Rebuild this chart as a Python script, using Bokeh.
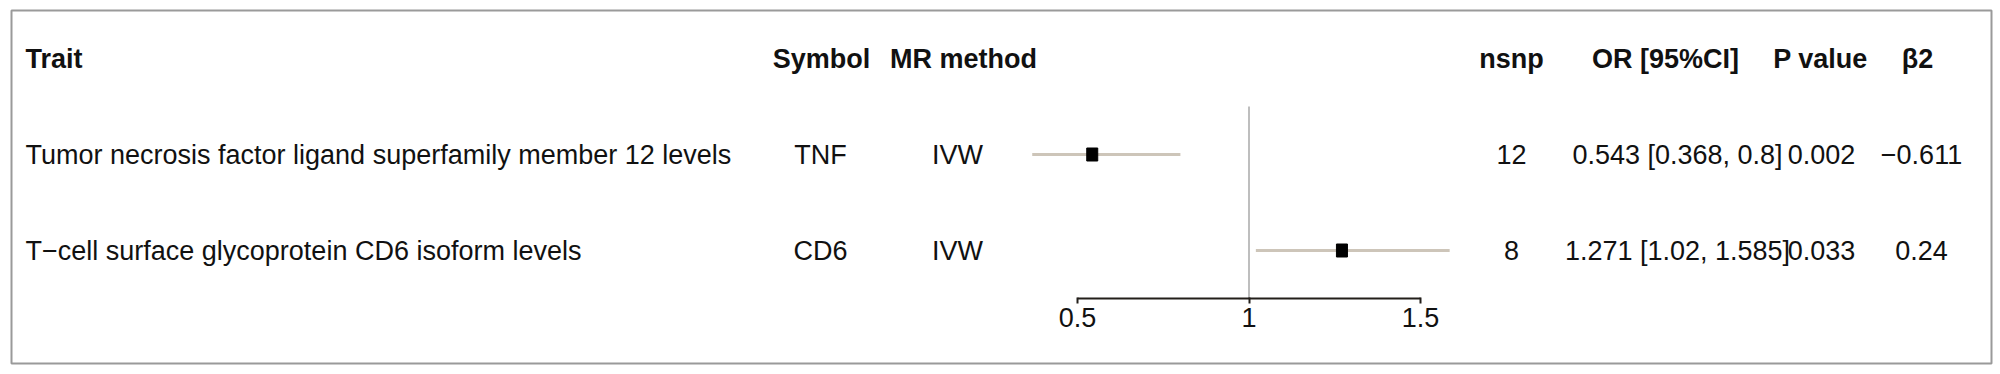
from bokeh.plotting import figure
from bokeh.models import Range1d, LinearAxis, FixedTicker
from bokeh.core.properties import value
from bokeh.embed import file_html
from bokeh.resources import INLINE

# ---------------- data ----------------
headers = ["Trait", "Symbol", "MR method", "nsnp", "OR [95%CI]", "P value", "β2"]
traits = ["Tumor necrosis factor ligand superfamily member 12 levels",
          "T\u2212cell surface glycoprotein CD6 isoform levels"]
symbols = ["TNF", "CD6"]
methods = ["IVW", "IVW"]
nsnp = [12, 8]
or_est = [0.543, 1.271]
or_lo = [0.368, 1.02]
or_hi = [0.8, 1.585]
pvals = ["0.002", "0.033"]
beta2 = ["\u22120.611", "0.24"]
ref_value = [1]
ticks = [0.5, 1, 1.5]
tick_labels = ["0.5", "1", "1.5"]

# ---------------- layout ----------------
FONT = value("Liberation Sans")
FS = value("27px")
ORIGIN = 0                          # canvas top-left on the page
FRAME_L, FRAME_R = 11, 1991        # page px
FRAME_T, FRAME_B = 10, 363
OR1_PX, PX_PER_UNIT = 1248.5, 343.0
ROW0_PX, ROW_STEP = 58.0, 96.0

W = 1994
H = 366

x_or = Range1d(1 - (OR1_PX - FRAME_L) / PX_PER_UNIT, 1 + (FRAME_R - OR1_PX) / PX_PER_UNIT)
y_rows = Range1d((FRAME_B - ROW0_PX) / ROW_STEP, (FRAME_T - ROW0_PX) / ROW_STEP)

p = figure(width=W, height=H, x_range=x_or, y_range=y_rows,
           x_axis_type=None, y_axis_type=None, output_backend="svg",
           toolbar_location=None, title=None,
           min_border_left=FRAME_L - ORIGIN, min_border_right=ORIGIN + W - FRAME_R,
           min_border_top=FRAME_T - ORIGIN, min_border_bottom=ORIGIN + H - FRAME_B)
p.extra_x_ranges = {"px": Range1d(FRAME_L, FRAME_R)}
p.outline_line_color = "#9a9a9a"
p.outline_line_width = 2
p.background_fill_color = "white"
p.border_fill_color = "white"

rows = [1 + i for i in range(len(traits))]

# header
hdr_x = [25, 821, 963, 1511, 1665, 1820, 1917]
hdr_align = ["left"] + ["center"] * 6
p.text(x=hdr_x, y=[0] * len(headers), text=headers, x_range_name="px",
       text_font=FONT, text_font_size=FS, text_font_style="bold",
       text_align=hdr_align, text_baseline="middle", text_color="#111111")

# table columns
or_text = [f"{e} [{l}, {h}]" for e, l, h in zip(or_est, or_lo, or_hi)]
cols = [(traits, 25, "left"), (symbols, 820, "center"), (methods, 957, "center"),
        ([str(n) for n in nsnp], 1511, "center"), (or_text, 1677, "center"),
        (pvals, 1821, "center"), (beta2, 1921, "center")]
for txt, cx, al in cols:
    p.text(x=[cx] * len(txt), y=rows, text=txt, x_range_name="px",
           text_font=FONT, text_font_size=FS, text_align=al,
           text_baseline="middle", text_color="#111111")

# forest
p.segment(x0=ref_value, y0=[0.5], x1=ref_value, y1=[2.5],
          line_color="#a9a9a9", line_width=1.5)
p.segment(x0=or_lo, y0=rows, x1=or_hi, y1=rows, line_color="#cdc5b9", line_width=3)
p.rect(x=or_est, y=rows, width=11, height=13, width_units="screen",
       height_units="screen", fill_color="black", line_color="black")

ax = LinearAxis(fixed_location=2.5, ticker=FixedTicker(ticks=ticks),
                bounds=(min(ticks), max(ticks)))
ax.major_label_overrides = {t: l for t, l in zip(ticks, tick_labels)}
ax.axis_line_color = "#231f1a"
ax.axis_line_width = 2
ax.major_tick_line_color = "#231f1a"
ax.major_tick_line_width = 2
ax.major_tick_in = 1
ax.major_tick_out = 5
ax.minor_tick_in = 0
ax.minor_tick_out = 0
ax.major_label_standoff = 4
ax.major_label_text_font = "Liberation Sans"
ax.major_label_text_font_size = "27px"
ax.major_label_text_color = "#111111"
p.add_layout(ax, "below")

open("out.html", "w").write(file_html(p, INLINE))
